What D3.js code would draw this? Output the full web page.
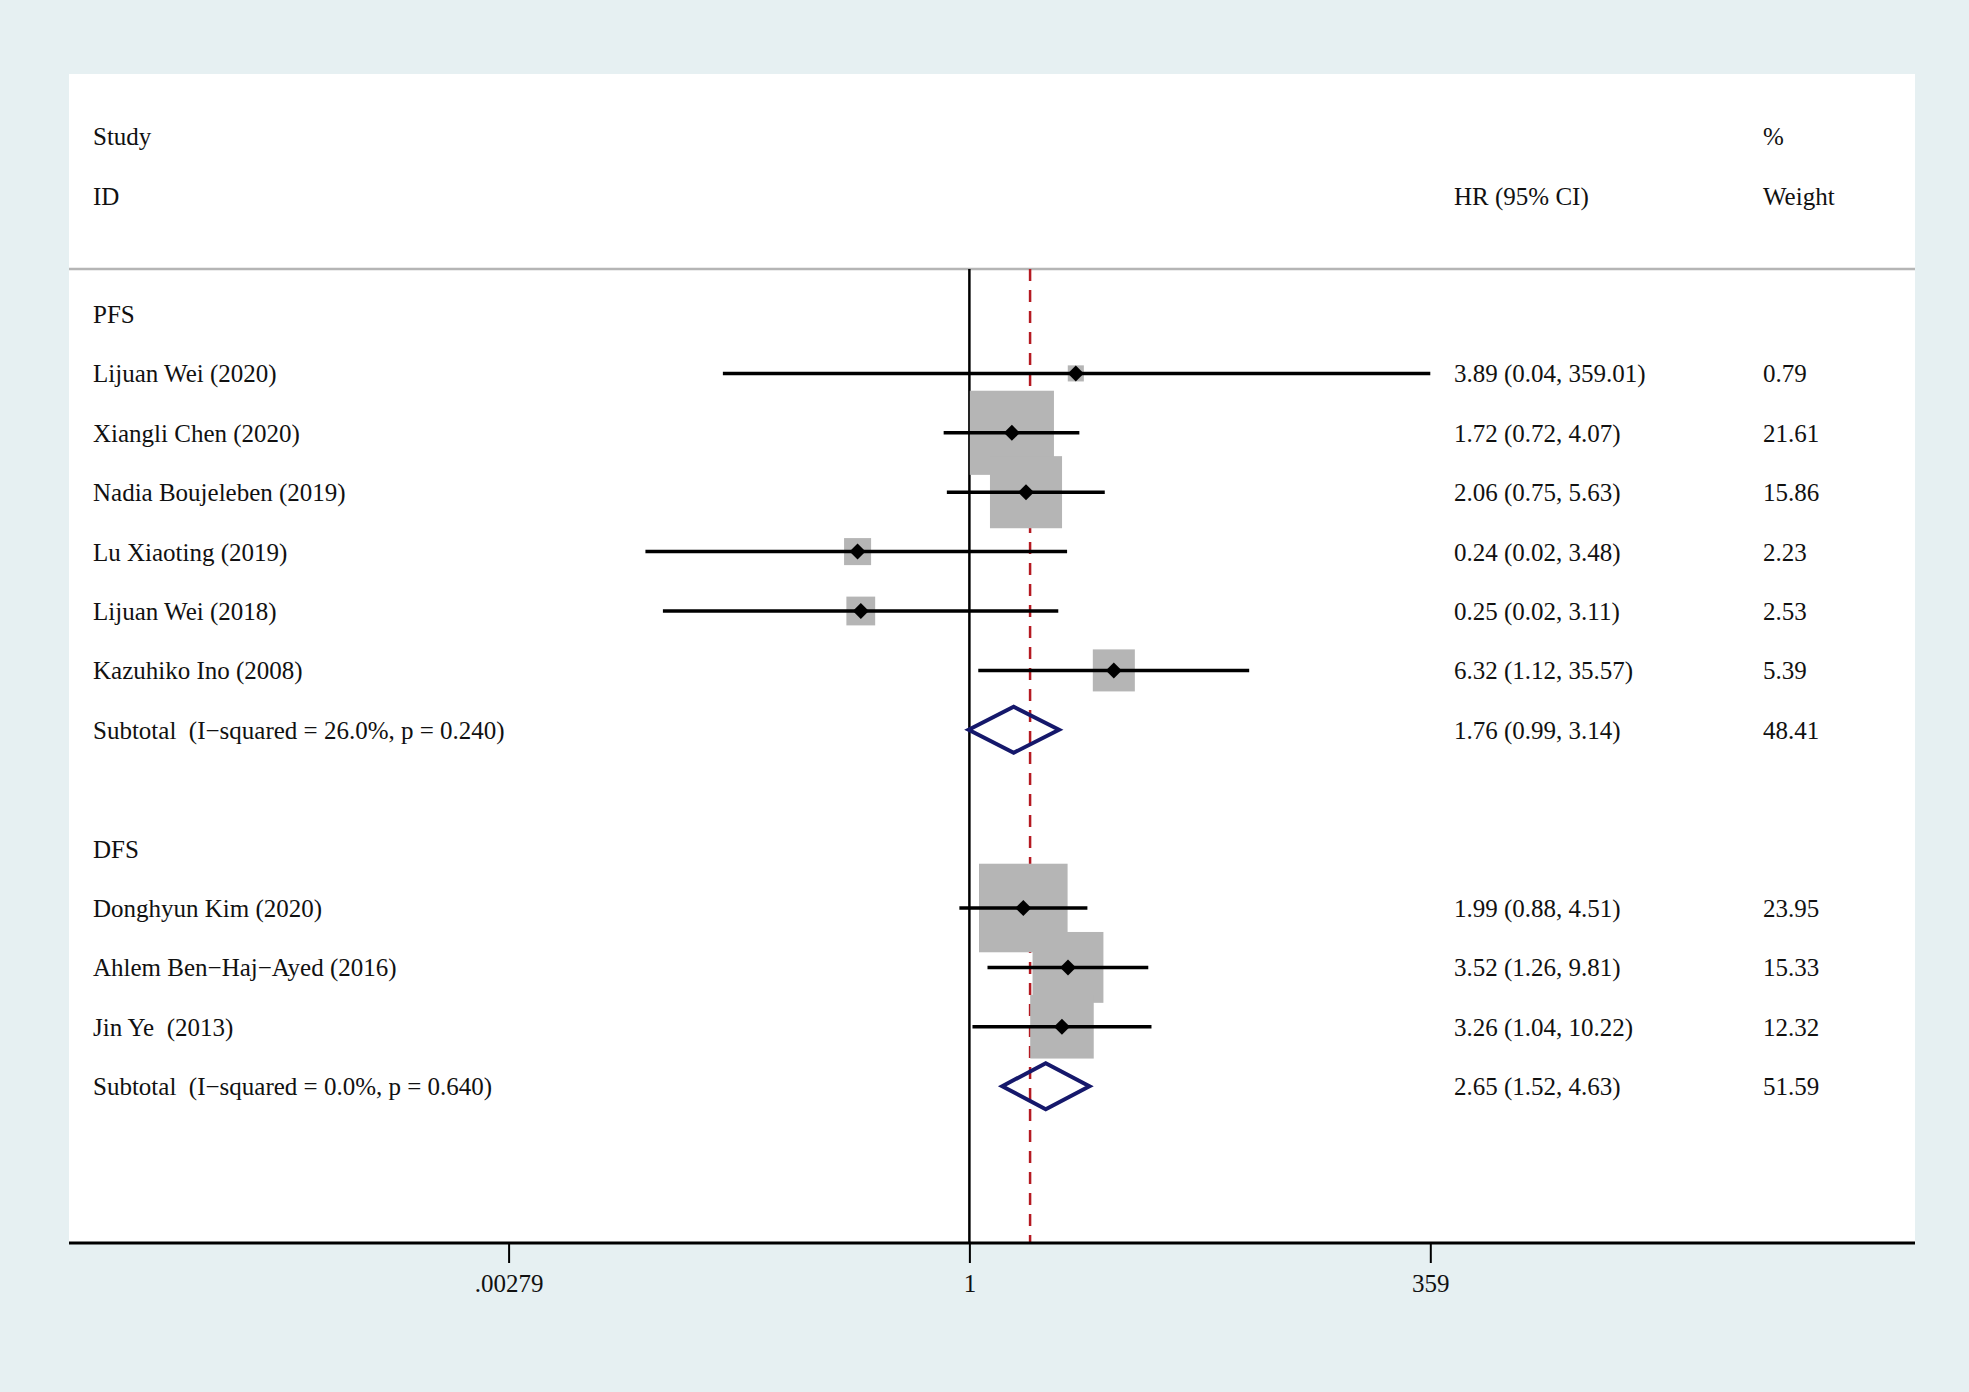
<!DOCTYPE html>
<html>
<head>
<meta charset="utf-8">
<script src="https://cdn.jsdelivr.net/npm/d3@7/dist/d3.min.js"></script>
<style>
  html, body { margin: 0; padding: 0; background: #e6f0f2; }
  svg { display: block; }
  text { font-family: "Liberation Serif", "Times New Roman", serif; fill: #111; white-space: pre; }
</style>
</head>
<body>
<svg id="chart" width="1969" height="1392"></svg>
<script>
// ---------------- DATA ----------------
const rowLabels = [
  "PFS",
  "Lijuan Wei (2020)",
  "Xiangli Chen (2020)",
  "Nadia Boujeleben (2019)",
  "Lu Xiaoting (2019)",
  "Lijuan Wei (2018)",
  "Kazuhiko Ino (2008)",
  "Subtotal  (I\u2212squared = 26.0%, p = 0.240)",
  "",
  "DFS",
  "Donghyun Kim (2020)",
  "Ahlem Ben\u2212Haj\u2212Ayed (2016)",
  "Jin Ye  (2013)",
  "Subtotal  (I\u2212squared = 0.0%, p = 0.640)"
];
const rowTypes = ["group","study","study","study","study","study","study","subtotal","blank",
                  "group","study","study","study","subtotal"];
const hrValues = [null, 3.89, 1.72, 2.06, 0.24, 0.25, 6.32, 1.76, null, null, 1.99, 3.52, 3.26, 2.65];
const ciLower  = [null, 0.043, 0.72, 0.75, 0.016, 0.02, 1.12, 0.99, null, null, 0.88, 1.26, 1.04, 1.52];
const ciUpper  = [null, 359.01, 4.07, 5.63, 3.48, 3.11, 35.57, 3.14, null, null, 4.51, 9.81, 10.22, 4.63];
const weights  = [null, 0.79, 21.61, 15.86, 2.23, 2.53, 5.39, 48.41, null, null, 23.95, 15.33, 12.32, 51.59];
const overallHR = 2.17;
const tickValues = [0.00279, 1, 359];
const tickLabels = [".00279", "1", "359"];
const headers = { study: "Study", id: "ID", hr: "HR (95% CI)", pct: "%", weight: "Weight" };

// ---------------- LAYOUT ----------------
const panel = { left: 69, right: 1915, top: 74, bottom: 1243 };
const headerLineY = 269;
const fontSize = 25;
const textX = 93, hrColX = 1454, wColX = 1763;

const svg = d3.select("#chart");
const fmt = d3.format(".2f");

const x = d3.scaleLog().domain([tickValues[0], tickValues[2]]).range([508.6, 1430.3]);
const y = d3.scaleLinear().domain([0, rowLabels.length - 1]).range([314, 1086.2]);
const boxSide = d3.scaleSqrt().domain([0, 100]).range([0, 181]);

const rows = rowLabels.map((label, i) => ({
  i, label, type: rowTypes[i], hr: hrValues[i], lo: ciLower[i], hi: ciUpper[i], w: weights[i]
}));

// white panel
svg.append("rect")
  .attr("x", panel.left).attr("y", panel.top)
  .attr("width", panel.right - panel.left).attr("height", panel.bottom - panel.top)
  .attr("fill", "#ffffff");

// header line
svg.append("line")
  .attr("x1", panel.left).attr("x2", panel.right)
  .attr("y1", headerLineY).attr("y2", headerLineY)
  .attr("stroke", "#b5b5b5").attr("stroke-width", 2.5);

// null line
svg.append("line")
  .attr("x1", x(1)).attr("x2", x(1))
  .attr("y1", headerLineY).attr("y2", panel.bottom)
  .attr("stroke", "#000").attr("stroke-width", 2.5);

// overall dashed line
svg.append("line")
  .attr("x1", x(overallHR)).attr("x2", x(overallHR))
  .attr("y1", headerLineY).attr("y2", panel.bottom)
  .attr("stroke", "#b51a22").attr("stroke-width", 2.5)
  .attr("stroke-dasharray", "12,9");

const studies = rows.filter(d => d.type === "study");

// weight boxes
svg.append("g").selectAll("rect").data(studies).join("rect")
  .attr("x", d => x(d.hr) - boxSide(d.w) / 2)
  .attr("y", d => y(d.i) - boxSide(d.w) / 2)
  .attr("width", d => boxSide(d.w))
  .attr("height", d => boxSide(d.w))
  .attr("fill", "#b5b5b5");

// CI lines
svg.append("g").selectAll("line").data(studies).join("line")
  .attr("x1", d => x(d.lo)).attr("x2", d => x(d.hi))
  .attr("y1", d => y(d.i)).attr("y2", d => y(d.i))
  .attr("stroke", "#000").attr("stroke-width", 3.5);

// point markers
const m = 8;
svg.append("g").selectAll("path").data(studies).join("path")
  .attr("d", d => {
    const cx = x(d.hr), cy = y(d.i);
    return `M${cx - m},${cy}L${cx},${cy - m}L${cx + m},${cy}L${cx},${cy + m}Z`;
  })
  .attr("fill", "#000");

// subtotal diamonds
const subs = rows.filter(d => d.type === "subtotal");
const dh = 23;
svg.append("g").selectAll("path").data(subs).join("path")
  .attr("d", d => {
    const cy = y(d.i);
    return `M${x(d.lo)},${cy}L${x(d.hr)},${cy - dh}L${x(d.hi)},${cy}L${x(d.hr)},${cy + dh}Z`;
  })
  .attr("fill", "none").attr("stroke", "#15186b").attr("stroke-width", 4)
  .attr("stroke-linejoin", "miter");

// header texts
const hdr = svg.append("g").attr("font-size", fontSize);
hdr.append("text").attr("x", textX).attr("y", 145).text(headers.study);
hdr.append("text").attr("x", textX).attr("y", 205).text(headers.id);
hdr.append("text").attr("x", hrColX).attr("y", 205).text(headers.hr);
hdr.append("text").attr("x", wColX).attr("y", 145).text(headers.pct);
hdr.append("text").attr("x", wColX).attr("y", 205).text(headers.weight);

// row texts
const txt = svg.append("g").attr("font-size", fontSize);
txt.selectAll("text.lab").data(rows.filter(d => d.label)).join("text")
  .attr("class", "lab")
  .attr("xml:space", "preserve")
  .attr("x", textX).attr("y", d => y(d.i) + 9)
  .text(d => d.label);

const valued = rows.filter(d => d.hr != null);
txt.selectAll("text.ci").data(valued).join("text")
  .attr("class", "ci")
  .attr("x", hrColX).attr("y", d => y(d.i) + 9)
  .text(d => `${fmt(d.hr)} (${fmt(d.lo)}, ${fmt(d.hi)})`);
txt.selectAll("text.w").data(valued).join("text")
  .attr("class", "w")
  .attr("x", wColX).attr("y", d => y(d.i) + 9)
  .text(d => fmt(d.w));

// axis
svg.append("line")
  .attr("x1", panel.left).attr("x2", panel.right)
  .attr("y1", panel.bottom).attr("y2", panel.bottom)
  .attr("stroke", "#000").attr("stroke-width", 3);

const axis = d3.axisBottom(x)
  .tickValues(tickValues)
  .tickFormat((d, i) => tickLabels[i])
  .tickSize(20).tickPadding(11);
const ag = svg.append("g").attr("transform", `translate(0,${panel.bottom})`).call(axis);
ag.select(".domain").remove();
ag.selectAll(".tick line").attr("stroke", "#000").attr("stroke-width", 2);
ag.selectAll(".tick text")
  .attr("font-family", "Liberation Serif, Times New Roman, serif")
  .attr("font-size", fontSize).attr("fill", "#111");
</script>
</body>
</html>
